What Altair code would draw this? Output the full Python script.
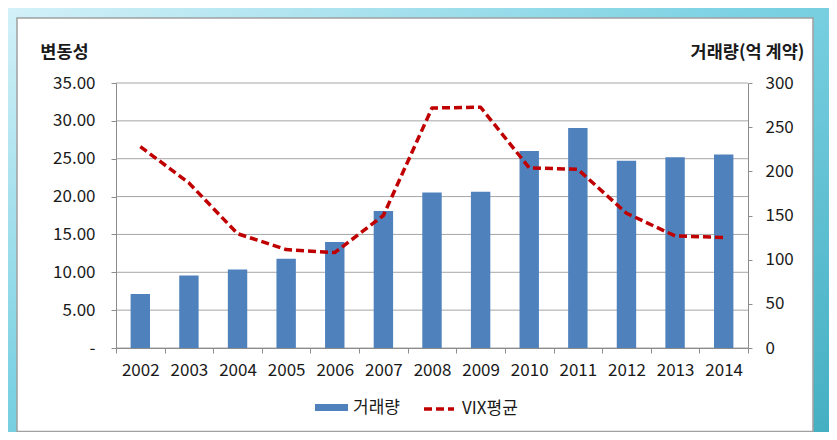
import altair as alt
import pandas as pd

years = ["2002", "2003", "2004", "2005", "2006", "2007", "2008",
         "2009", "2010", "2011", "2012", "2013", "2014"]
volume = [61, 82, 89, 101, 120, 155, 176, 177, 223, 249, 212, 216, 219]
vix = [26.6, 21.8, 15.1, 13.0, 12.6, 17.5, 31.7, 31.8, 23.8, 23.6, 17.8, 14.8, 14.6]
series_names = ["거래량", "VIX평균"]

left_ticks = [0, 5, 10, 15, 20, 25, 30, 35]
right_ticks = [0, 50, 100, 150, 200, 250, 300]

df = pd.DataFrame({"year": years, "volume": volume, "vix": vix,
                   "s_bar": series_names[0], "s_line": series_names[1]})
grid_df = pd.DataFrame({"g": left_ticks})

FONT = "Noto Sans CJK KR"
BAR = "#4F81BD"
LINE = "#C00000"
GRID = "#A6A6A6"
AXC = "#8C8C8C"
TXT = "#1A1A1A"
LFS = 17

W, H = 632, 265
PL, PT, PR, PB = 108, 75, 81, 84

xscale = alt.Scale(paddingInner=0, paddingOuter=0)
xaxis = alt.Axis(title=None, labelAngle=0, tickBand="extent", tickSize=5,
                 labelPadding=9, domainColor=AXC, tickColor=AXC, grid=False,
                 labelFontSize=LFS, labelColor=TXT, labelFont=FONT, zindex=2)

one = pd.DataFrame({"k": [0]})

bg = alt.Chart(one).mark_rect(
    color=alt.Gradient(
        gradient="linear",
        stops=[alt.GradientStop(color="#D3F1F8", offset=0),
               alt.GradientStop(color="#7CD2E3", offset=0.45),
               alt.GradientStop(color="#45AFC2", offset=1)],
        x1=0, y1=0, x2=1, y2=1)
).encode(x=alt.value(-PL), x2=alt.value(W + PR), y=alt.value(-PT), y2=alt.value(H + PB))

panel = alt.Chart(one).mark_rect(fill="white", stroke="#A0A0A0", strokeWidth=1.5).encode(
    x=alt.value(-99), x2=alt.value(697), y=alt.value(-65), y2=alt.value(348.5))

grid = alt.Chart(grid_df).mark_rule(color=GRID, strokeWidth=1).encode(
    y=alt.Y("g:Q", scale=alt.Scale(domain=[0, 35], nice=False), axis=None),
    x=alt.value(0), x2=alt.value(W))

bars = alt.Chart(df).mark_bar(size=19.4).encode(
    x=alt.X("year:N", scale=xscale, axis=xaxis, sort=years),
    y=alt.Y("volume:Q", scale=alt.Scale(domain=[0, 300], nice=False),
            axis=alt.Axis(orient="right", values=right_ticks, grid=False,
                          title="거래량(억 계약)", titleAngle=0, titleX=-1, titleY=-31,
                          titleAlign="center", titleBaseline="middle",
                          titleFontSize=17.5, titleFontWeight="bold", titleFont=FONT,
                          titleColor=TXT, tickSize=4, labelPadding=13,
                          domainColor=AXC, tickColor=AXC, labelFontSize=LFS,
                          labelColor=TXT, labelFont=FONT, zindex=2)),
    color=alt.Color("s_bar:N", scale=alt.Scale(domain=[series_names[0]], range=[BAR]),
                    legend=alt.Legend(title=None, orient="none", legendX=199, legendY=308,
                                      symbolType="M-1,-0.21H1V0.21H-1Z", symbolSize=1089,
                                      symbolStrokeWidth=0, labelFontSize=LFS, labelFont=FONT,
                                      labelColor=TXT, labelOffset=5, padding=0)),
)

line = alt.Chart(df).mark_line(color=LINE, strokeWidth=3.5, interpolate="linear",
                               strokeCap="butt", strokeJoin="round").encode(
    x=alt.X("year:N", scale=xscale, axis=xaxis, sort=years, bandPosition=0.5),
    y=alt.Y("vix:Q", scale=alt.Scale(domain=[0, 35], nice=False),
            axis=alt.Axis(orient="left", values=left_ticks,
                          labelExpr="datum.value == 0 ? '-' : format(datum.value, '.2f')",
                          title="변동성", titleAngle=0, titleX=-52, titleY=-31,
                          titleAlign="center", titleBaseline="middle",
                          titleFontSize=17.5, titleFontWeight="bold", titleFont=FONT,
                          titleColor=TXT, grid=False,
                          domainColor=AXC, tickColor=AXC, tickSize=5, labelPadding=16,
                          labelFontSize=LFS, labelColor=TXT, labelFont=FONT, zindex=2)),
    strokeDash=alt.StrokeDash("s_line:N",
                              scale=alt.Scale(domain=[series_names[1]], range=[[8, 4]]),
                              legend=alt.Legend(title=None, orient="none", legendX=306,
                                                legendY=309, symbolType="stroke",
                                                symbolSize=900, symbolStrokeColor=LINE,
                                                symbolStrokeWidth=3.5, labelFontSize=LFS,
                                                labelFont=FONT, labelColor=TXT,
                                                labelOffset=6, padding=0)),
)

chart = alt.layer(bg, panel, grid, bars, line).resolve_scale(
    y="independent", color="independent", strokeDash="independent"
).properties(
    width=W, height=H,
    autosize=alt.AutoSizeParams(type="none"),
    padding={"left": PL, "top": PT, "right": PR, "bottom": PB},
    background="#7CD2E3",
).configure_view(stroke=None)

chart.save("out.html", embed_options={"renderer": "svg", "actions": False})
